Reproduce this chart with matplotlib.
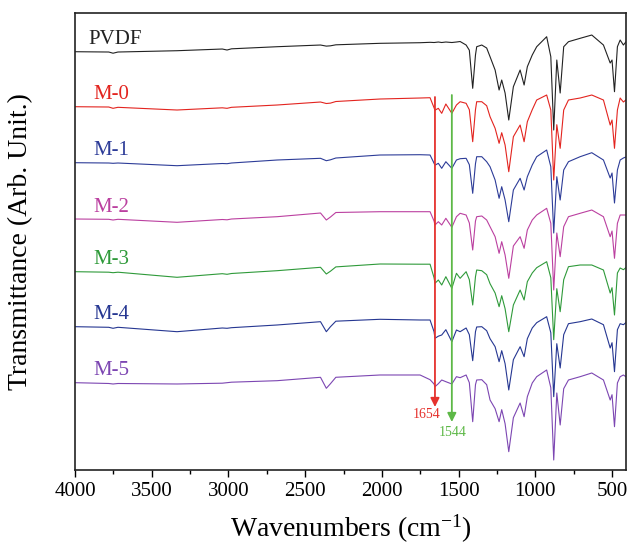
import matplotlib
matplotlib.use('Agg')
import matplotlib.pyplot as plt
from matplotlib.ticker import MultipleLocator

plt.rcParams['font.family'] = ['Liberation Serif', 'DejaVu Serif']
plt.rcParams['mathtext.default'] = 'regular'

# wavenumber grid (cm-1), shared by all spectra
wavenumber = [4000, 3780, 3752, 3720, 3335, 3040, 3009, 2980, 2683, 2400,
              2362, 2335, 2300, 2012, 1751, 1686, 1660, 1654, 1632, 1610,
              1583, 1544, 1514, 1490, 1451, 1430, 1408, 1390, 1382, 1349,
              1317, 1295, 1262, 1236, 1219, 1197, 1173, 1143, 1099, 1073,
              1052, 1020, 991, 926, 899, 880, 860, 838, 815, 784,
              708, 632, 556, 512, 500, 484, 465, 447, 426, 410]

# transmittance relative to each spectrum's value at 4000 cm-1 (arb. units)
pvdf = [0, -0.3, -1.5, -0.3, 1.0, 2.7, 1.7, 2.9, 5.0, 6.7,
        5.6, 5.9, 6.9, 8.4, 9.0, 9.4, 9.2, 9.3, 9.7, 9.2,
        9.7, 9.2, 9.7, 10.2, 6.7, 1.5, -36.6, -3.3, 5.0, 6.7,
        3.7, -5.0, -18.3, -38.3, -28.3, -41.3, -68.3, -35.0, -18.3, -33.3,
        -15.0, -3.3, 5.0, 15.0, -5.0, -78.3, -8.3, -41.3, 5.0, 10.0,
        13.4, 16.7, 6.7, -11.3, -8.3, -40.0, 5.0, 11.7, 6.7, 9.7]
m0 = [0, -0.3, -1.6, -0.6, -3.3, -1.1, -1.6, -0.6, 1.7, 4.7,
      3.2, 3.6, 5.2, 7.7, 8.7, 9.0, -1.0, -3.5, -1.6, -6.6,
      2.7, -6.6, 1.7, 5.0, 3.4, -3.0, -35.0, -3.0, 5.0, 5.0,
      1.0, -10.0, -21.6, -36.6, -26.0, -38.3, -65.0, -30.0, -18.3, -35.0,
      -15.0, -3.0, 6.7, 11.7, -3.3, -73.3, -18.0, -41.6, -3.3, 6.7,
      8.7, 11.7, 6.7, -18.3, -13.3, -41.6, -3.3, 8.7, 4.7, 6.7]
m1 = [0, -0.3, -0.6, -0.3, -3.0, -0.8, -1.0, -0.3, 2.7, 4.4,
      2.0, 2.9, 4.7, 7.7, 8.0, 7.7, -0.5, -2.5, -0.6, -5.6,
      1.0, -5.6, 2.7, 4.0, 4.4, -2.0, -30.6, -1.0, 6.0, 6.0,
      1.0, -4.0, -17.3, -35.6, -24.0, -37.3, -59.0, -27.3, -15.6, -27.3,
      -14.0, -2.3, 6.0, 12.7, -4.0, -70.3, -14.0, -37.3, -7.3, 1.0,
      6.0, 10.0, 2.7, -15.3, -10.3, -40.3, -7.3, 2.7, 4.7, 5.7]
m2 = [0, -0.3, -1.0, -0.3, -3.3, -0.5, -0.8, 0, 2.3, 6.0,
      -1.0, 2.0, 6.5, 7.3, 7.3, 7.3, -2.0, -6.0, -2.7, -6.0,
      0.7, -8.3, 2.3, 5.7, 4.0, -4.0, -31.0, -2.0, 2.3, 3.0,
      -1.0, -7.7, -17.7, -34.3, -22.7, -36.0, -59.3, -27.0, -17.7, -29.3,
      -11.0, -1.0, 4.0, 10.7, -4.3, -71.0, -14.0, -37.7, -7.7, 2.3,
      5.7, 9.0, 2.3, -17.7, -12.0, -39.3, -4.3, 4.0, 4.0, 4.0]
m3 = [0, -0.5, -1.0, -0.5, -5.6, -2.0, -2.6, -1.8, 1.0, 4.4,
      -2.3, 0.5, 4.8, 7.7, 7.5, 7.5, -6.0, -11.6, -8.3, -13.3,
      -5.0, -16.6, -1.6, -6.6, 0.0, -8.0, -33.3, -5.0, 1.7, 1.0,
      -3.0, -12.0, -21.3, -35.0, -24.0, -37.0, -60.0, -33.3, -18.3, -28.3,
      -10.0, -1.3, 4.0, 10.0, -6.0, -68.0, -17.0, -40.0, -8.0, 5.0,
      6.7, 6.7, 1.7, -21.3, -16.0, -43.3, -1.3, 3.7, 2.0, 4.0]
m4 = [0, -0.6, -1.6, -0.6, -5.0, -1.3, -1.6, -1.0, 1.7, 5.0,
      -5.0, 0.0, 5.5, 7.4, 6.7, 6.7, -5.0, -11.6, -9.5, -8.3,
      -3.0, -15.0, -3.3, -5.0, -1.3, -8.0, -34.0, -5.0, -0.3, 0.0,
      -4.0, -12.0, -20.0, -35.0, -24.0, -37.0, -63.3, -33.0, -20.0, -30.0,
      -12.0, -1.3, 4.0, 10.0, -6.0, -70.0, -17.0, -41.3, -8.0, 3.0,
      5.0, 7.7, 2.0, -21.3, -16.0, -45.0, -3.0, 3.0, 2.0, 4.0]
m5 = [0, -0.8, -1.3, -0.8, -1.3, -0.5, 0.0, 0.5, 2.0, 5.4,
      -5.6, -1.0, 5.4, 7.7, 7.7, 3.0, -1.3, -4.0, -1.0, 2.7,
      1.0, -1.3, 6.0, 5.0, 7.7, 0.0, -39.0, -2.0, 2.7, 3.0,
      -2.0, -17.3, -26.0, -39.0, -27.0, -41.0, -69.0, -35.0, -20.3, -34.0,
      -14.0, -0.3, 6.0, 12.7, -5.0, -77.3, -10.3, -42.3, -6.0, 2.7,
      6.0, 9.7, 2.7, -17.3, -12.0, -44.0, -0.3, 6.0, 7.7, 6.0]

names = ['PVDF', 'M-0', 'M-1', 'M-2', 'M-3', 'M-4', 'M-5']
spectra = [pvdf, m0, m1, m2, m3, m4, m5]
colors = ['#222222', '#e3241f', '#2d3c98', '#bb40a0', '#2f9a3a', '#263792', '#7c46b2']
offsets = [418.3, 363.3, 307.3, 251.0, 198.3, 143.3, 87.3]

# marked bands
band_pos = [1654, 1544]
band_colors = ['#e5322d', '#5db847']
band_top = [373, 375]
band_tip = [63, 48]
band_text_x = [1708, 1540]
band_text_y = [55, 37]

fig = plt.figure(figsize=(6.27, 5.47), dpi=100)
ax = fig.add_axes([0.1196, 0.1408, 0.8788, 0.8354])

for name, spec, col, off in zip(names, spectra, colors, offsets):
    ax.plot(wavenumber, [off + v for v in spec], color=col, lw=0.8)
    lx = 3915 if name == 'PVDF' else 3883
    ax.text(lx, off + 7.5, name, color=col, fontsize=15, va='baseline', ha='left')

for pos, col, top, tip, tx, ty in zip(band_pos, band_colors, band_top, band_tip,
                                      band_text_x, band_text_y):
    ax.annotate('', xy=(pos, tip), xytext=(pos, top),
                arrowprops=dict(arrowstyle='-|>', color=col, lw=1.3,
                                mutation_scale=13, shrinkA=0, shrinkB=0))
    ax.text(tx, ty, str(pos), color=col, fontsize=10, ha='center', va='center')

ax.set_xlim(4000, 409)
ax.set_ylim(0, 457)
ax.xaxis.set_major_locator(MultipleLocator(500))
ax.xaxis.set_minor_locator(MultipleLocator(250))
ax.tick_params(axis='x', which='major', direction='out', length=5, width=1,
               labelsize=15, pad=4)
ax.tick_params(axis='x', which='minor', direction='out', length=3, width=1)
ax.set_yticks([])
for sp in ax.spines.values():
    sp.set_linewidth(1.2)
    sp.set_color('#222222')

ax.set_xlabel('Wavenumbers (cm$^{-1}$)', fontsize=20, labelpad=8)
ax.set_ylabel('Transmittance (Arb. Unit.)', fontsize=20, labelpad=30)

fig.savefig('out.png', dpi=100)
